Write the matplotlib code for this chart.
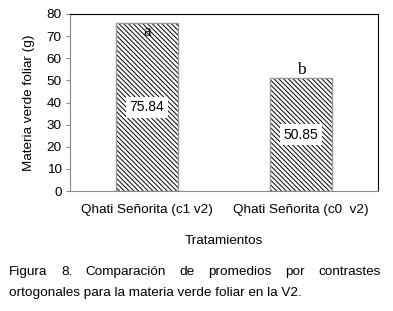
import matplotlib
matplotlib.use('Agg')
import matplotlib.pyplot as plt

# datos
categorias = ['Qhati Señorita (c1 v2)', 'Qhati Señorita (c0  v2)']
promedios = [75.84, 50.85]
letras = ['a', 'b']

plt.rcParams['font.family'] = ['Liberation Sans', 'DejaVu Sans']
plt.rcParams['hatch.linewidth'] = 0.7

fig = plt.figure(figsize=(3.93, 3.11), dpi=100)
ax = fig.add_axes([70 / 393, 1 - 191 / 311, 308 / 393, 177 / 311])

x = range(len(categorias))
# relleno rayado negro y borde gris por separado
ax.bar(x, promedios, width=0.4, color='white', edgecolor='black',
       hatch='\\' * 7, linewidth=0)
ax.bar(x, promedios, width=0.4, fill=False, edgecolor='#999999', linewidth=1.0)

# etiquetas de valores en cajas blancas
for xi, v in zip(x, promedios):
    ax.text(xi, v / 2, f'{v:.2f}', ha='center', va='center', fontsize=10,
            bbox=dict(facecolor='white', edgecolor='none', pad=2.5))

# letras de significancia
ax.text(0, promedios[0] - 0.3, letras[0], ha='center', va='top', fontsize=12.5,
        family='Liberation Serif')
ax.text(1, promedios[1] + 0.3, letras[1], ha='center', va='bottom', fontsize=12.5,
        family='Liberation Serif')

ax.set_xlim(-0.5, 1.5)
ax.set_ylim(0, 80)
ax.set_yticks(range(0, 81, 10))
ax.set_xticks(list(x))
ax.set_xticklabels(categorias, fontsize=9.7)
ax.tick_params(axis='x', length=0, pad=9)
ax.tick_params(axis='y', length=3, width=0.8, labelsize=9.7, pad=3, color='#888888')
for s in ax.spines.values():
    s.set_linewidth(0.8)
ax.spines['left'].set_color('#888888')
ax.spines['bottom'].set_color('#888888')
ax.set_ylabel('Materia verde foliar (g)', fontsize=9.7, labelpad=8)
ax.set_xlabel('Tratamientos', fontsize=9.7, labelpad=14)

# pie de figura justificado
fig.canvas.draw()
renderer = fig.canvas.get_renderer()
linea1 = 'Figura 8. Comparación de promedios por contrastes'.split()
x0, x1 = 9 / 393, 381 / 393
y1 = 1 - 272 / 311
objs = [fig.text(0, y1, w, fontsize=9.7, va='center') for w in linea1]
anchos = [o.get_window_extent(renderer).width / fig.bbox.width for o in objs]
hueco = (x1 - x0 - sum(anchos)) / (len(objs) - 1)
pos = x0
for o, w in zip(objs, anchos):
    o.set_x(pos)
    pos += w + hueco
fig.text(x0, 1 - 293 / 311, 'ortogonales para la materia verde foliar en la V2.',
         fontsize=9.7, va='center')

fig.savefig('out.png', dpi=100)
